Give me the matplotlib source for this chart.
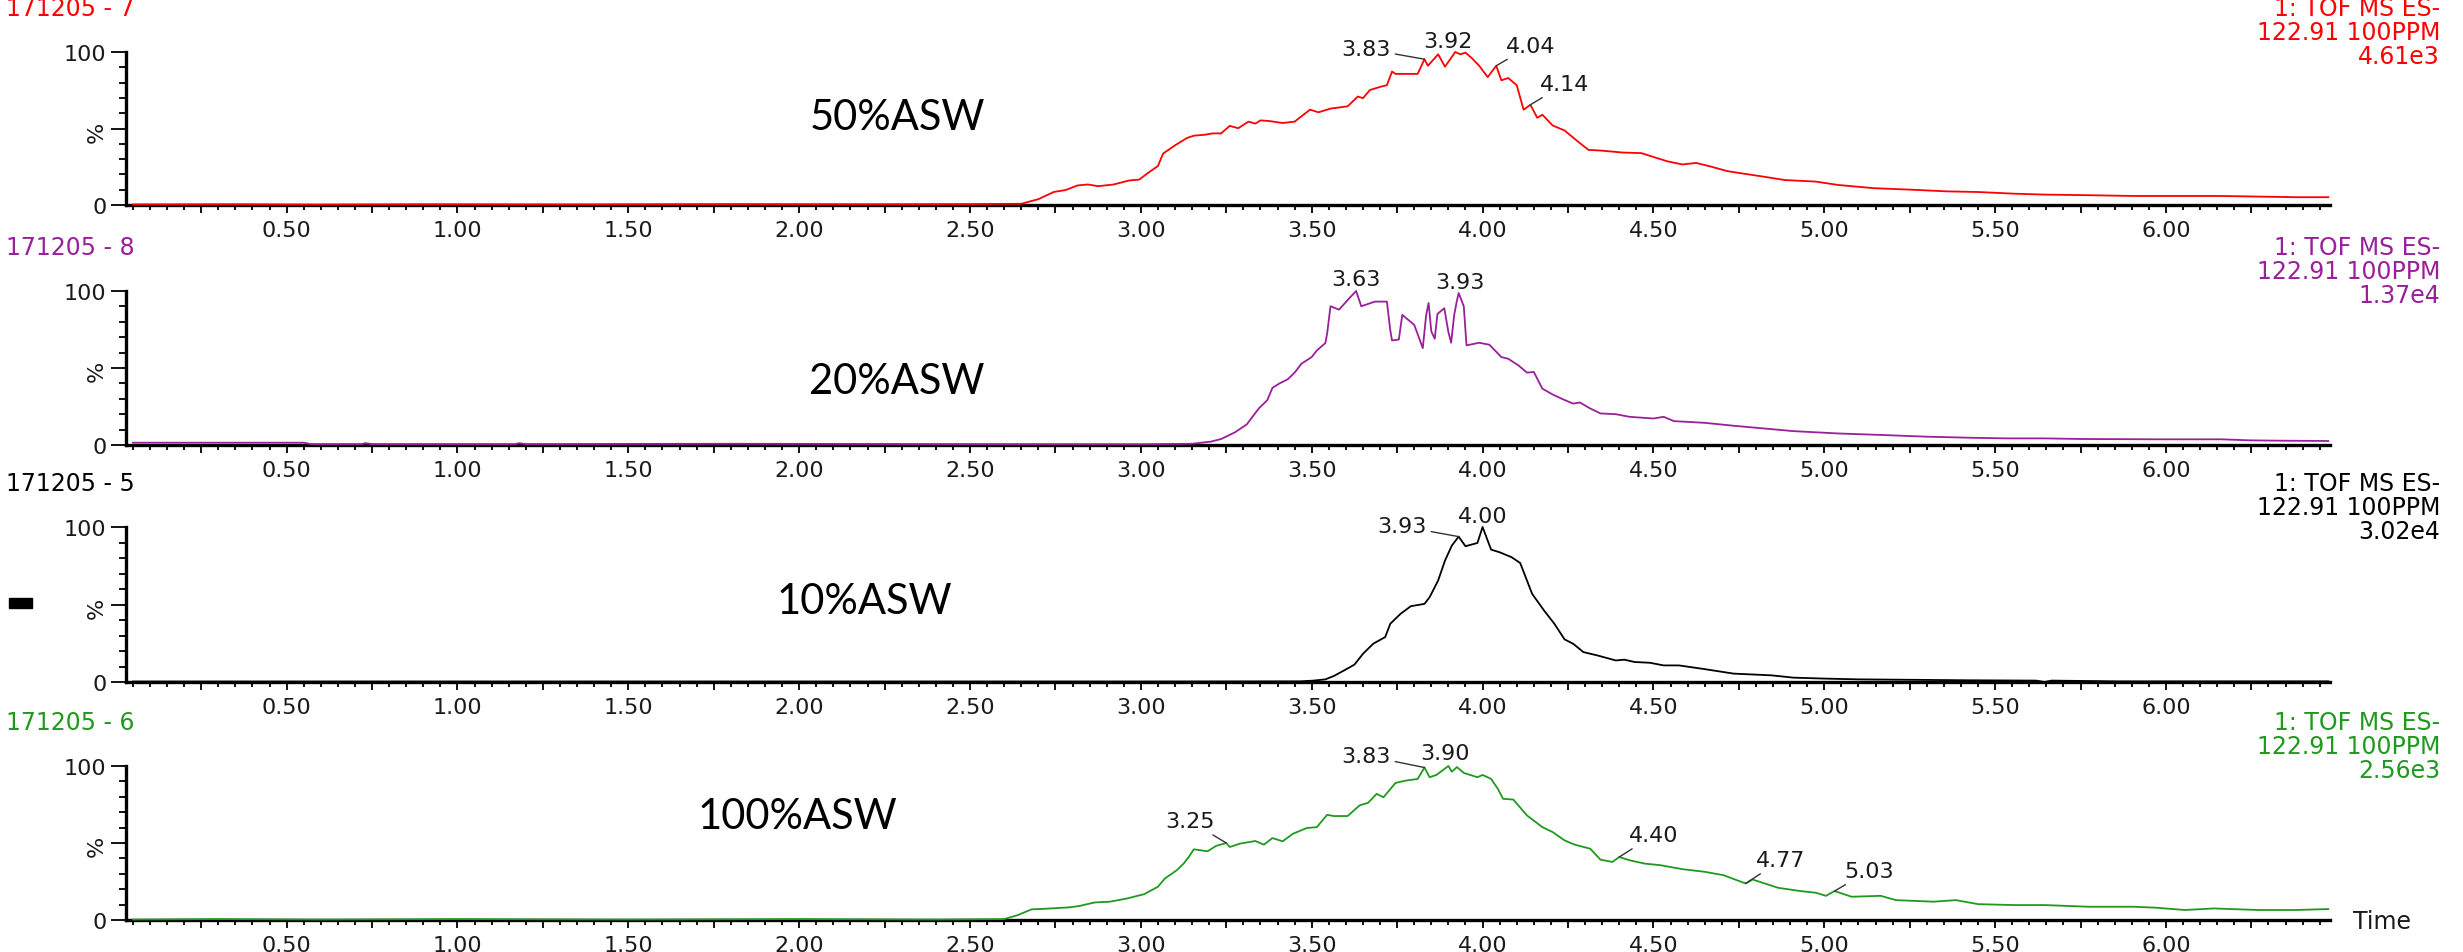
import matplotlib
matplotlib.use("Agg")
import matplotlib.pyplot as plt
from matplotlib.ticker import FixedLocator, FuncFormatter, MultipleLocator
from matplotlib.patches import Rectangle

plt.rcParams['font.family'] = 'DejaVu Sans'

# --- data (time in min, relative intensity in %) ---
t_50 = [0.05, 0.35, 0.60, 0.90, 1.30, 1.80, 2.20, 2.50, 2.65, 2.70, 2.745, 2.78, 2.815,
        2.845, 2.875, 2.92, 2.965, 2.995, 3.02, 3.05, 3.065, 3.10, 3.135, 3.155, 3.19, 3.21,
        3.235, 3.26, 3.285, 3.315, 3.335, 3.35, 3.375, 3.415, 3.45, 3.495, 3.52, 3.555, 3.605,
        3.635, 3.65, 3.67, 3.70, 3.72, 3.735, 3.745, 3.81, 3.83, 3.84, 3.87, 3.89, 3.92, 3.935,
        3.95, 3.97, 3.99, 4.015, 4.04, 4.055, 4.075, 4.10, 4.12, 4.14, 4.16, 4.175, 4.205, 4.24,
        4.28, 4.31, 4.345, 4.41, 4.465, 4.50, 4.54, 4.585, 4.625, 4.67, 4.715, 4.755, 4.82,
        4.885, 4.975, 5.04, 5.145, 5.255, 5.36, 5.45, 5.555, 5.645, 5.775, 5.905, 6.03, 6.16,
        6.27, 6.38, 6.475]
i_50 = [0.4, 0.5, 0.3, 0.5, 0.4, 0.6, 0.5, 0.6, 0.8, 3.8, 8.5, 9.8, 12.8,
        13.4, 12.3, 13.4, 16.0, 16.6, 20.8, 25.5, 33.6, 39.0, 43.8, 45.3, 46.0, 46.8,
        46.8, 51.7, 50.2, 54.5, 53.2, 55.3, 54.9, 53.6, 54.5, 62.3, 60.6, 63.0, 64.5,
        70.9, 69.8, 75.1, 77.2, 78.3, 87.2, 85.7, 85.7, 95.3, 91.0, 98.5, 90.4, 100.0, 98.5,
        99.6, 95.7, 91.0, 83.6, 91.0, 81.5, 83.0, 78.3, 62.3, 65.5, 57.0, 59.0, 52.0, 48.7,
        41.3, 36.0, 35.6, 34.3, 33.9, 31.4, 28.6, 26.5, 27.5, 25.0, 22.2, 20.8, 18.6,
        16.3, 15.3, 13.1, 11.0, 10.0, 8.9, 8.5, 7.4, 6.8, 6.4, 5.9, 5.9, 5.9,
        5.5, 5.1, 5.1]

t_20 = [0.05, 0.55, 0.57, 0.72, 0.73, 0.75, 1.17, 1.18, 1.20, 1.80, 2.40, 3.00, 3.15,
        3.205, 3.235, 3.275, 3.31, 3.345, 3.37, 3.385, 3.405, 3.43, 3.45, 3.47, 3.50, 3.515,
        3.54, 3.545, 3.555, 3.58, 3.61, 3.63, 3.645, 3.685, 3.72, 3.73, 3.735, 3.755, 3.765,
        3.80, 3.815, 3.825, 3.835, 3.842, 3.85, 3.86, 3.868, 3.888, 3.90, 3.908, 3.917, 3.924,
        3.93, 3.945, 3.953, 3.99, 4.02, 4.055, 4.075, 4.105, 4.13, 4.15, 4.175, 4.205, 4.235,
        4.265, 4.285, 4.315, 4.345, 4.39, 4.43, 4.50, 4.53, 4.56, 4.65, 4.735, 4.82, 4.91,
        5.04, 5.17, 5.30, 5.43, 5.535, 5.645, 5.75, 5.97, 6.16, 6.25, 6.335, 6.475]
i_20 = [1.5, 1.5, 0.6, 0.6, 1.2, 0.6, 0.6, 1.2, 0.6, 0.8, 0.6, 0.5, 0.8,
        2.2, 3.9, 8.2, 13.4, 23.7, 29.1, 37.1, 39.9, 42.7, 47.0, 52.8, 57.1, 61.4,
        66.2, 72.2, 90.1, 87.9, 95.3, 100.0, 90.1, 93.1, 93.1, 74.4, 67.9, 68.5, 84.5,
        78.0, 69.0, 62.9, 84.5, 92.2, 73.7, 69.0, 85.1, 88.8, 73.3, 66.4, 84.5, 92.7,
        98.7, 90.1, 64.7, 66.4, 65.1, 57.1, 56.0, 51.7, 47.0, 47.4, 36.6, 32.8, 29.7,
        26.9, 27.6, 23.7, 20.5, 20.0, 18.3, 17.2, 18.3, 15.5, 14.4, 12.5, 10.8, 9.0,
        7.5, 6.5, 5.4, 4.7, 4.3, 4.3, 3.9, 3.7, 3.7, 3.0, 2.8, 2.6]

t_10 = [0.05, 1.00, 2.00, 3.00, 3.465, 3.505, 3.54, 3.565, 3.595, 3.625, 3.65, 3.68, 3.715,
        3.73, 3.76, 3.79, 3.83, 3.845, 3.87, 3.89, 3.91, 3.93, 3.95, 3.985, 4.00, 4.025, 4.05,
        4.085, 4.11, 4.145, 4.18, 4.21, 4.24, 4.265, 4.295, 4.335, 4.39, 4.415, 4.445, 4.49,
        4.53, 4.575, 4.65, 4.735, 4.845, 4.91, 5.00, 5.10, 5.21, 5.43, 5.62, 5.645, 5.665,
        5.86, 6.475]
i_10 = [0.3, 0.3, 0.3, 0.3, 0.4, 0.9, 1.7, 3.9, 7.5, 11.2, 18.2, 24.7, 29.0,
        37.6, 44.0, 48.9, 50.4, 54.7, 65.5, 78.3, 88.0, 93.8, 87.6, 89.7, 100.0, 85.4, 83.7,
        80.5, 76.8, 56.9, 46.1, 37.6, 27.5, 24.7, 19.3, 17.2, 13.9, 14.4, 12.9, 12.4,
        10.7, 10.7, 8.3, 5.4, 4.3, 2.8, 2.2, 1.7, 1.5, 1.1, 0.9, 0.0, 0.9,
        0.4, 0.4]

t_100 = [0.05, 0.30, 0.60, 1.00, 1.50, 2.00, 2.40, 2.60, 2.64, 2.68, 2.72, 2.79, 2.82,
         2.865, 2.91, 2.96, 3.01, 3.05, 3.07, 3.105, 3.125, 3.14, 3.155, 3.195, 3.22, 3.25,
         3.26, 3.29, 3.335, 3.36, 3.385, 3.415, 3.445, 3.485, 3.515, 3.545, 3.565, 3.605,
         3.64, 3.665, 3.69, 3.71, 3.745, 3.775, 3.81, 3.83, 3.845, 3.865, 3.90, 3.91, 3.925,
         3.945, 3.985, 4.00, 4.025, 4.045, 4.06, 4.09, 4.13, 4.175, 4.205, 4.24, 4.27, 4.315,
         4.345, 4.38, 4.40, 4.43, 4.475, 4.52, 4.585, 4.65, 4.705, 4.77, 4.79, 4.865, 4.93,
         4.975, 5.005, 5.03, 5.08, 5.165, 5.21, 5.32, 5.385, 5.45, 5.555, 5.645, 5.775,
         5.905, 5.97, 6.055, 6.14, 6.27, 6.38, 6.475]
i_100 = [0.3, 0.6, 0.3, 0.6, 0.3, 0.6, 0.3, 0.6, 3.2, 6.9, 7.3, 8.2, 9.1,
         11.4, 11.9, 14.0, 16.8, 21.6, 26.9, 32.3, 36.6, 40.9, 45.9, 44.6, 48.1, 50.0,
         47.4, 49.6, 51.3, 48.9, 53.2, 51.1, 56.0, 59.7, 60.3, 68.3, 67.5, 67.5,
         74.4, 76.1, 81.9, 79.7, 89.0, 90.5, 91.6, 99.0, 92.7, 94.2, 100.0, 96.3, 99.3,
         95.5, 92.7, 94.2, 91.6, 85.1, 78.7, 78.2, 67.9, 60.3, 57.1, 51.7, 48.9, 46.3,
         39.2, 37.7, 40.9, 38.8, 36.6, 35.6, 33.0, 31.3, 29.1, 23.7, 26.3, 20.9, 18.8,
         17.7, 15.7, 18.8, 15.1, 15.7, 12.9, 11.9, 12.9, 10.3, 9.7, 9.7, 8.6,
         8.6, 8.0, 6.5, 7.5, 6.5, 6.5, 7.1]

# labelled peaks: (time, intensity at peak, label x, label y, draw leader line)
peaks_50 = [(3.83, 95.3, 3.66, 102.0, True), (3.92, 100.0, 3.90, 107.0, False),
            (4.04, 91.0, 4.14, 104.0, True), (4.14, 65.5, 4.24, 79.0, True)]
peaks_20 = [(3.63, 100.0, 3.63, 108.0, False), (3.93, 98.7, 3.935, 106.0, False)]
peaks_10 = [(3.93, 93.8, 3.765, 100.4, True), (4.00, 100.0, 4.00, 107.3, False)]
peaks_100 = [(3.25, 50.0, 3.145, 64.0, True), (3.83, 99.0, 3.66, 106.7, True),
             (3.90, 100.0, 3.89, 108.4, False), (4.40, 40.9, 4.50, 55.0, True),
             (4.77, 23.7, 4.873, 38.8, True), (5.03, 18.8, 5.13, 31.7, True)]

names = ['171205 - 7', '171205 - 8', '171205 - 5', '171205 - 6']
maxima = ['4.61e3', '1.37e4', '3.02e4', '2.56e3']
samples = ['50%ASW', '20%ASW', '10%ASW', '100%ASW']
traces = [(t_50, i_50, peaks_50), (t_20, i_20, peaks_20),
          (t_10, i_10, peaks_10), (t_100, i_100, peaks_100)]
colors = ['#ff0000', '#9a1f9a', '#000000', '#1f9a1f']

# --- layout (pixels of the 2463x953 output) ---
W, H = 2463, 953
left, right = 126, 2330
tops = [53, 292, 528, 767]
bottoms = [206, 446, 683, 921]
sample_xy = [(897, 118), (897, 382), (864, 602), (797, 817)]

fig = plt.figure(figsize=(W / 100, H / 100), dpi=100)

major_x = [0.25 * k for k in range(1, 26)]


def xfmt(v, pos):
    if abs(v * 2 - round(v * 2)) < 1e-6:
        return f'{v:.2f}'
    return ''


for k, (t, y, peaks) in enumerate(traces):
    top, bot = tops[k], bottoms[k]
    ax = fig.add_axes([left / W, 1 - bot / H, (right - left) / W, (bot - top) / H])
    ax.plot(t, y, color=colors[k], lw=1.3, clip_on=False, zorder=3)
    ax.set_xlim(0.03, 6.48)
    ax.set_ylim(0, 100)
    for s in ('top', 'right'):
        ax.spines[s].set_visible(False)
    for s in ('left', 'bottom'):
        ax.spines[s].set_linewidth(2.4)
        ax.spines[s].set_color('black')

    ax.xaxis.set_major_locator(FixedLocator(major_x))
    ax.xaxis.set_major_formatter(FuncFormatter(xfmt))
    ax.xaxis.set_minor_locator(MultipleLocator(0.05))
    ax.set_yticks([0, 50, 100])
    ax.set_yticklabels(['0', '%', '100'])
    ax.get_yticklabels()[1].set_rotation(90)
    ax.yaxis.set_minor_locator(MultipleLocator(10))
    ax.tick_params(axis='x', which='major', length=6, width=1.3, pad=5,
                   labelsize=16, labelcolor='#1a1a1a')
    ax.tick_params(axis='x', which='minor', length=3.5, width=1.3)
    ax.tick_params(axis='y', which='major', length=11, width=1.3, pad=3,
                   labelsize=16, labelcolor='#1a1a1a')
    ax.tick_params(axis='y', which='minor', length=5, width=1.3)

    for pt, py, lx, ly, leader in peaks:
        props = dict(arrowstyle='-', lw=1.0, color='#333333', shrinkA=1, shrinkB=0) if leader else None
        ax.annotate(f'{pt:.2f}', xy=(pt, py), xytext=(lx, ly), ha='center', va='center',
                    fontsize=16, color='#1a1a1a', arrowprops=props, annotation_clip=False)

    # header texts
    fig.text(6 / W, 1 - (top - 44) / H, names[k], color=colors[k], fontsize=17,
             ha='left', va='center')
    hdr = ['1: TOF MS ES-', '122.91 100PPM', maxima[k]]
    for j, line in enumerate(hdr):
        fig.text(2440 / W, 1 - (top - 44 + 24 * j) / H, line, color=colors[k], fontsize=17,
                 ha='right', va='center')
    sx, sy = sample_xy[k]
    fig.text(sx / W, 1 - sy / H, samples[k], family='Lato', fontsize=30,
             ha='center', va='center', color='black')

fig.text(2353 / W, 1 - 922 / H, 'Time', fontsize=17, ha='left', va='center', color='#1a1a1a')
fig.patches.append(Rectangle((9 / W, 1 - 609 / H), 23 / W, 10 / H,
                             transform=fig.transFigure, color='black'))

fig.savefig('out.png', dpi=100, facecolor='white')
